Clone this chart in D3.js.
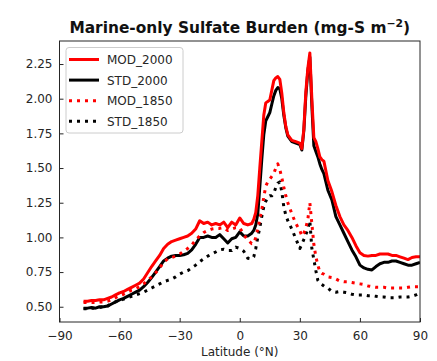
<!DOCTYPE html>
<html>
<head>
<meta charset="utf-8">
<script src="https://cdn.jsdelivr.net/npm/d3@7"></script>
<style>
  html, body { margin: 0; padding: 0; background: #fff; }
  svg { display: block; font-family: "DejaVu Sans", sans-serif; }
</style>
</head>
<body>
<svg id="chart" width="437" height="361"></svg>
<script>
// ---------------- data ----------------
const latitude = [-78,-76,-74,-72,-70,-68,-66,-64,-62,-60,-58,-56,-54,-52,-50,-48,-46,-44,-42,-40,
  -38,-36,-34,-32,-30,-28,-26,-24,-22,-20,-18,-16,-14,-12,-10,-8,-6,-4,-2,0,2,4,6,
  7,8,9,10,11,12,13,14,15,16,17,18,19,20,21,22,23,24,
  26,28,30,
  31,32,33,34,35,36,37,38,39,40,41,42,43,44,
  46,48,50,52,54,56,58,60,62,64,66,68,70,72,74,76,78,80,82,84,86,88,90];

const MOD_2000 = [0.54,0.54,0.545,0.545,0.55,0.55,0.56,0.57,0.585,0.60,
  0.61,0.625,0.64,0.655,0.67,0.70,0.745,0.79,0.83,0.87,
  0.92,0.95,0.97,0.98,0.99,1.00,1.01,1.03,1.06,1.12,
  1.10,1.11,1.09,1.10,1.09,1.11,1.07,1.11,1.09,1.14,
  1.10,1.09,1.10,
  1.13,1.18,1.30,1.50,1.69,1.88,1.97,1.98,1.99,2.06,2.13,2.15,2.16,2.14,2.04,1.90,1.80,1.74,
  1.70,1.69,1.68,
  1.64,1.78,2.05,2.22,2.33,2.00,1.72,1.69,1.64,1.58,1.56,1.55,1.48,1.41,
  1.33,1.23,1.15,1.09,1.05,1.00,0.94,0.89,0.87,0.865,0.87,0.87,0.88,0.88,0.88,0.87,0.87,0.86,0.85,0.84,0.855,0.86,0.86];

const STD_2000 = [0.49,0.49,0.495,0.49,0.50,0.50,0.505,0.52,0.535,0.55,
  0.56,0.575,0.59,0.605,0.62,0.645,0.675,0.71,0.75,0.79,
  0.83,0.85,0.865,0.87,0.87,0.875,0.885,0.91,0.95,1.00,
  1.00,1.01,1.00,1.00,1.02,0.99,0.96,0.99,1.00,1.04,
  1.01,1.01,1.03,
  1.05,1.09,1.17,1.36,1.56,1.74,1.84,1.87,1.90,1.96,2.02,2.06,2.08,2.07,2.00,1.88,1.79,1.73,
  1.69,1.68,1.67,
  1.63,1.77,2.02,2.20,2.30,1.95,1.66,1.62,1.58,1.53,1.49,1.46,1.40,1.34,
  1.27,1.15,1.09,1.03,0.97,0.91,0.86,0.80,0.78,0.77,0.765,0.79,0.81,0.82,0.82,0.83,0.83,0.82,0.81,0.80,0.80,0.81,0.82];

const MOD_1850 = [0.53,0.53,0.53,0.53,0.535,0.535,0.54,0.55,0.565,0.58,
  0.59,0.605,0.62,0.63,0.645,0.665,0.69,0.715,0.745,0.78,
  0.82,0.845,0.855,0.865,0.88,0.90,0.92,0.945,0.98,1.01,
  1.035,1.05,1.06,1.065,1.065,1.07,1.05,1.06,1.07,1.07,
  1.02,0.98,0.955,
  0.96,1.00,1.06,1.13,1.20,1.29,1.37,1.40,1.42,1.44,1.46,1.50,1.53,1.49,1.43,1.36,1.30,1.25,
  1.17,1.10,1.05,
  1.01,1.03,1.07,1.13,1.25,1.10,0.95,0.86,0.80,0.75,0.74,0.735,0.725,0.715,
  0.71,0.70,0.685,0.68,0.68,0.675,0.67,0.665,0.66,0.65,0.645,0.64,0.64,0.64,0.635,0.635,0.635,0.635,0.635,0.64,0.645,0.645,0.645];

const STD_1850 = [0.485,0.485,0.49,0.49,0.495,0.50,0.505,0.525,0.535,0.545,
  0.555,0.565,0.575,0.585,0.595,0.605,0.62,0.635,0.65,0.665,
  0.68,0.69,0.70,0.715,0.735,0.75,0.76,0.78,0.80,0.825,
  0.845,0.865,0.88,0.895,0.91,0.915,0.905,0.905,0.93,0.92,
  0.90,0.85,0.845,
  0.86,0.92,1.00,1.07,1.15,1.22,1.26,1.29,1.30,1.30,1.32,1.36,1.39,1.40,1.33,1.22,1.16,1.12,
  1.06,0.99,0.92,
  0.95,0.985,1.02,1.06,1.12,0.92,0.84,0.76,0.69,0.67,0.66,0.65,0.64,0.635,
  0.61,0.605,0.61,0.605,0.60,0.59,0.585,0.585,0.585,0.58,0.58,0.575,0.57,0.57,0.565,0.565,0.565,0.57,0.57,0.57,0.575,0.585,0.60];

const xTicks = [-90, -60, -30, 0, 30, 60, 90];
const yTicks = [0.50, 0.75, 1.00, 1.25, 1.50, 1.75, 2.00, 2.25];
const seriesNames = ["MOD_2000", "STD_2000", "MOD_1850", "STD_1850"];

// ---------------- layout ----------------
const L = 59.5, R = 420, T = 41, B = 322;
const svg = d3.select("#chart");
const x = d3.scaleLinear().domain([-90, 90]).range([L, R]);
const y = d3.scaleLinear().domain([0.39, 2.416]).range([B, T]);

const styles = {
  MOD_2000: {color: "#ff0000", dash: null},
  STD_2000: {color: "#000000", dash: null},
  MOD_1850: {color: "#ff0000", dash: "3,5"},
  STD_1850: {color: "#000000", dash: "3,5"}
};
const dataMap = {MOD_2000, STD_2000, MOD_1850, STD_1850};

svg.append("defs").append("clipPath").attr("id", "clip")
  .append("rect").attr("x", L).attr("y", T).attr("width", R - L).attr("height", B - T);

const line = d3.line().x(d => x(d[0])).y(d => y(d[1]));
const g = svg.append("g").attr("clip-path", "url(#clip)");
["STD_2000", "MOD_2000", "STD_1850", "MOD_1850"].forEach(name => {
  const pts = latitude.map((la, i) => [la, dataMap[name][i]]);
  g.append("path").datum(pts)
    .attr("d", line)
    .attr("fill", "none")
    .attr("stroke", styles[name].color)
    .attr("stroke-width", 3)
    .attr("stroke-linejoin", "round")
    .attr("stroke-dasharray", styles[name].dash);
});

// axes (ticks inward)
const xAxis = d3.axisBottom(x).tickValues(xTicks).tickSizeInner(-4).tickSizeOuter(0)
  .tickPadding(9).tickFormat(d => d < 0 ? "\u2212" + Math.abs(d) : String(d));
const gx = svg.append("g").attr("transform", `translate(0,${B})`).call(xAxis);
const yAxis = d3.axisLeft(y).tickValues(yTicks).tickSizeInner(-4).tickSizeOuter(0)
  .tickPadding(7).tickFormat(d3.format(".2f"));
const gy = svg.append("g").attr("transform", `translate(${L},0)`).call(yAxis);
[gx, gy].forEach(a => {
  a.select(".domain").remove();
  a.selectAll("text").attr("font-size", 12).attr("fill", "#262626").attr("font-family", "DejaVu Sans");
  a.selectAll("line").attr("stroke", "#262626");
});

// frame
svg.append("rect").attr("x", L).attr("y", T).attr("width", R - L).attr("height", B - T)
  .attr("fill", "none").attr("stroke", "#262626").attr("stroke-width", 1);

// title
const title = svg.append("text").attr("x", (L + R) / 2).attr("y", 33)
  .attr("text-anchor", "middle").attr("font-size", 15.4).attr("font-weight", "bold").attr("fill", "#111");
title.append("tspan").text("Marine-only Sulfate Burden (mg-S m");
title.append("tspan").attr("dy", -6.5).attr("font-size", 10.8).text("\u22122");
title.append("tspan").attr("dy", 6.5).text(")");

// x label
svg.append("text").attr("x", (L + R) / 2).attr("y", 356).attr("text-anchor", "middle")
  .attr("font-size", 12).attr("fill", "#262626").text("Latitude (\u00b0N)");

// legend
const lg = svg.append("g");
lg.append("rect").attr("x", 66).attr("y", 47.5).attr("width", 117).attr("height", 85.5)
  .attr("rx", 3).attr("fill", "#fff").attr("fill-opacity", 0.8).attr("stroke", "#cccccc");
seriesNames.forEach((name, i) => {
  const yy = 59.5 + i * 20.6;
  lg.append("line").attr("x1", 69).attr("x2", 99).attr("y1", yy).attr("y2", yy)
    .attr("stroke", styles[name].color).attr("stroke-width", 3)
    .attr("stroke-dasharray", styles[name].dash);
  lg.append("text").attr("x", 107).attr("y", yy + 4.5).attr("font-size", 12)
    .attr("fill", "#262626").text(name);
});
</script>
</body>
</html>
